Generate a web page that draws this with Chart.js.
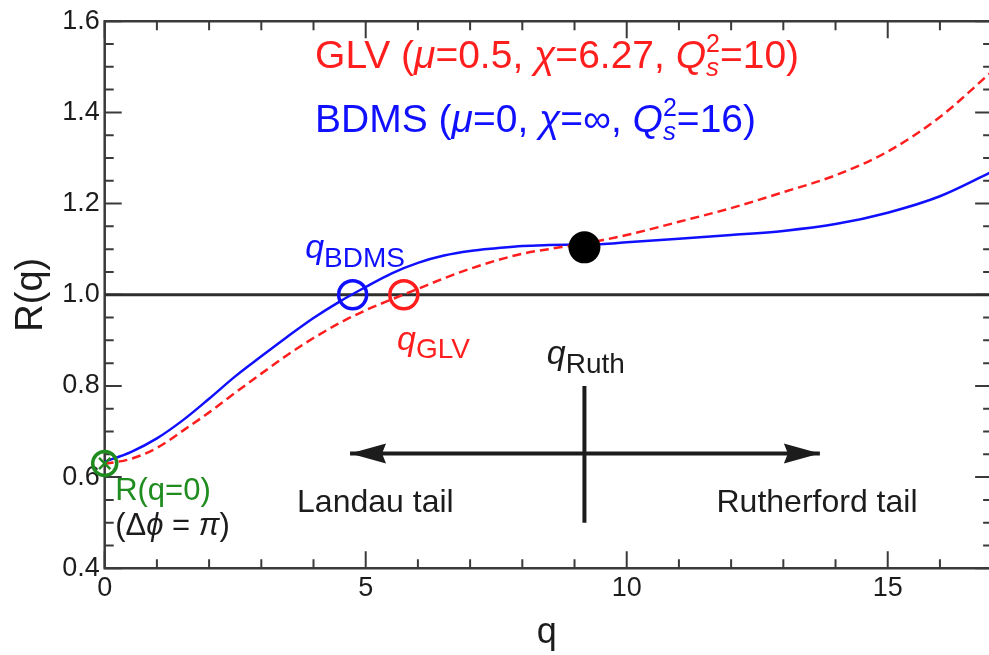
<!DOCTYPE html>
<html>
<head>
<meta charset="utf-8">
<script src="https://cdn.jsdelivr.net/npm/chart.js@4.4.1/dist/chart.umd.min.js"></script>
<style>
  html, body { margin: 0; padding: 0; background: #fff; overflow: hidden; }
  #wrap { width: 989px; height: 655px; }
</style>
</head>
<body>
<div id="wrap"><canvas id="c" width="989" height="655"></canvas></div>
<script>
// momentum grid and the two ratio curves
const qGrid = [0, 0.5, 1, 1.5, 2, 2.5, 3, 3.5, 4, 4.5, 5, 5.5, 6, 6.5, 7, 7.5, 8, 8.5, 9, 9.5, 10, 11, 12, 13, 14, 15, 16, 17];
const bdmsR = [0.634, 0.655, 0.685, 0.725, 0.772, 0.821, 0.865, 0.908, 0.949, 0.985, 1.017, 1.047, 1.07, 1.086, 1.096, 1.102, 1.107, 1.109, 1.110, 1.111, 1.115, 1.123, 1.131, 1.14, 1.155, 1.18, 1.216, 1.27];
const glvR  = [0.629, 0.64, 0.664, 0.702, 0.742, 0.785, 0.827, 0.868, 0.905, 0.938, 0.966, 0.99, 1.013, 1.036, 1.057, 1.075, 1.09, 1.1, 1.109, 1.119, 1.131, 1.16, 1.19, 1.225, 1.262, 1.314, 1.39, 1.49];

const xTicks = [0, 5, 10, 15];
const yTicks = [0.4, 0.6, 0.8, 1.0, 1.2, 1.4, 1.6];
const qMax = 16.94;

// marked points
const qBdms = 4.75, qGlv = 5.73;   // where R(q) = 1
const qRuth = 9.19, rRuth = 1.104;
const rZero = 0.63;                // R(q=0)

// Landau / Rutherford arrow and divider
const arrowQ = [4.7, 13.7], arrowR = 0.652;
const barR = [0.50, 0.80];

const RED = '#ff1e1e', BLUE = '#1010ff', GREEN = '#1e8c1e', INK = '#1c1c1c';
const FAM = '"Liberation Sans", Arial, "DejaVu Sans", sans-serif';
Chart.defaults.font.family = FAM;

const pts = (xs, ys) => xs.map((x, i) => ({ x: x, y: ys[i] }));

const notes = [
  { q: 4.03, r: 1.497, color: RED, parts: [
    { t: 'GLV (', s: 39 }, { t: 'μ', s: 39, i: 1 }, { t: '=0.5, ', s: 39 }, { t: 'χ', s: 39, i: 1 },
    { t: '=6.27, ', s: 39 }, { t: 'Q', s: 39, i: 1 }, { t: '2', s: 25, dy: -16, stay: 1 },
    { t: 's', s: 26, i: 1, dy: 8 }, { t: '=10)', s: 39 }] },
  { q: 4.03, r: 1.357, color: BLUE, parts: [
    { t: 'BDMS (', s: 39 }, { t: 'μ', s: 39, i: 1 }, { t: '=0, ', s: 39 }, { t: 'χ', s: 39, i: 1 },
    { t: '=∞, ', s: 39 }, { t: 'Q', s: 39, i: 1 }, { t: '2', s: 25, dy: -16, stay: 1 },
    { t: 's', s: 26, i: 1, dy: 8 }, { t: '=16)', s: 39 }] },
  { q: 3.84, r: 1.081, color: BLUE, parts: [{ t: 'q', s: 34, i: 1 }, { t: 'BDMS', s: 28, dy: 9 }] },
  { q: 5.60, r: 0.878, color: RED, parts: [{ t: 'q', s: 34, i: 1 }, { t: 'GLV', s: 28, dy: 8 }] },
  { q: 8.47, r: 0.849, color: INK, parts: [{ t: 'q', s: 34, i: 1 }, { t: 'Ruth', s: 28, dy: 9 }] },
  { q: 0.2, r: 0.550, color: GREEN, parts: [{ t: 'R(q=0)', s: 31 }] },
  { q: 0.2, r: 0.474, color: INK, parts: [{ t: '(Δ', s: 31 }, { t: 'ϕ', s: 31, i: 1 }, { t: ' = ', s: 31 }, { t: 'π', s: 31, i: 1 }, { t: ')', s: 31 }] },
  { q: 3.685, r: 0.523, color: INK, parts: [{ t: 'Landau tail', s: 32 }] },
  { q: 11.72, r: 0.523, color: INK, parts: [{ t: 'Rutherford tail', s: 32 }] }
];

function drawParts(ctx, x, y, parts, color) {
  let cx = x;
  ctx.fillStyle = color;
  ctx.textBaseline = 'alphabetic';
  ctx.textAlign = 'left';
  let held = 0;
  for (const p of parts) {
    ctx.font = (p.i ? 'italic ' : '') + p.s + 'px ' + FAM;
    ctx.fillText(p.t, cx, y + (p.dy || 0));
    const w = ctx.measureText(p.t).width;
    if (p.stay) { held = Math.max(held, w); continue; }
    cx += Math.max(w, held);
    held = 0;
  }
}

// inward ticks on all four sides plus the frame
const framePlugin = {
  id: 'frame',
  beforeDatasetsDraw(chart) {
    const { ctx, chartArea: a, scales: { x, y } } = chart;
    const right = x.getPixelForValue(17);
    ctx.save();
    ctx.strokeStyle = '#3a3a3a';
    ctx.lineWidth = 2;
    ctx.beginPath();
    for (let i = 0; i <= 16; i++) {
      const px = x.getPixelForValue(i);
      const len = i % 5 === 0 ? 17 : 9;
      ctx.moveTo(px, a.bottom); ctx.lineTo(px, a.bottom - len);
      ctx.moveTo(px, a.top); ctx.lineTo(px, a.top + len);
    }
    for (let j = 0; j <= 24; j++) {
      const py = y.getPixelForValue(0.4 + j * 0.05);
      const len = j % 4 === 0 ? 17 : 9;
      ctx.moveTo(a.left, py); ctx.lineTo(a.left + len, py);
      ctx.moveTo(right, py); ctx.lineTo(right - len, py);
    }
    ctx.stroke();
    ctx.lineWidth = 2.5;
    ctx.beginPath();
    ctx.moveTo(right, a.top); ctx.lineTo(a.left, a.top);
    ctx.lineTo(a.left, a.bottom); ctx.lineTo(right, a.bottom);
    ctx.stroke();
    ctx.restore();
  }
};

// arrow heads on both ends of the Landau/Rutherford arrow, then the text labels
const arrowPlugin = {
  id: 'arrows',
  afterDatasetsDraw(chart) {
    const meta = chart.getDatasetMeta(3);
    const p0 = meta.data[0], p1 = meta.data[1];
    const ctx = chart.ctx;
    ctx.save();
    ctx.fillStyle = INK;
    [[p0, 1], [p1, -1]].forEach(([p, dir]) => {
      ctx.beginPath();
      ctx.moveTo(p.x, p.y);
      ctx.lineTo(p.x + dir * 36, p.y - 10);
      ctx.lineTo(p.x + dir * 32, p.y);
      ctx.lineTo(p.x + dir * 36, p.y + 10);
      ctx.closePath();
      ctx.fill();
    });
    ctx.restore();
  },
  afterDraw(chart) {
    const { ctx, scales: { x, y } } = chart;
    ctx.save();
    notes.forEach(n => drawParts(ctx, x.getPixelForValue(n.q), y.getPixelForValue(n.r), n.parts, n.color));
    ctx.restore();
  }
};

new Chart(document.getElementById('c'), {
  type: 'line',
  data: {
    datasets: [
      { data: pts([0, 17], [1, 1]), borderColor: '#2e2e2e', borderWidth: 3, pointRadius: 0, order: 5 },
      { data: pts(qGrid, bdmsR), borderColor: BLUE, borderWidth: 2.5, pointRadius: 0, cubicInterpolationMode: 'monotone', order: 4 },
      { data: pts(qGrid, glvR), borderColor: RED, borderWidth: 2.5, borderDash: [9, 5], pointRadius: 0, cubicInterpolationMode: 'monotone', order: 3 },
      { data: pts(arrowQ, [arrowR, arrowR]), borderColor: INK, borderWidth: 4, pointRadius: 0, order: 6 },
      { data: pts([qRuth, qRuth], barR), borderColor: INK, borderWidth: 4, pointRadius: 0, order: 6 },
      { data: pts([qBdms], [1]), showLine: false, pointRadius: 14, pointBorderWidth: 3.5, pointBorderColor: BLUE, pointBackgroundColor: 'rgba(0,0,0,0)', order: 1 },
      { data: pts([qGlv], [1]), showLine: false, pointRadius: 14, pointBorderWidth: 3.5, pointBorderColor: RED, pointBackgroundColor: 'rgba(0,0,0,0)', order: 1 },
      { data: pts([qRuth], [rRuth]), showLine: false, pointRadius: 16, pointBorderWidth: 0, pointBackgroundColor: '#000', order: 0 },
      { data: pts([0], [rZero]), showLine: false, clip: false, pointRadius: 12, pointBorderWidth: 3.5, pointBorderColor: GREEN, pointBackgroundColor: 'rgba(0,0,0,0)', order: 0 },
      { data: pts([0], [rZero]), showLine: false, clip: false, pointStyle: 'crossRot', pointRadius: 8, pointBorderWidth: 2.5, pointBorderColor: GREEN, order: 0 }
    ]
  },
  options: {
    responsive: false,
    animation: false,
    devicePixelRatio: 1,
    events: [],
    layout: { autoPadding: false, padding: { top: 20, right: 0, left: 0, bottom: 0 } },
    plugins: { legend: { display: false }, tooltip: { enabled: false } },
    scales: {
      x: {
        type: 'linear', min: 0, max: qMax,
        afterBuildTicks: s => { s.ticks = xTicks.map(v => ({ value: v })); },
        afterFit: s => { s.height = 86.7; },
        grid: { display: false, drawTicks: false },
        border: { display: false },
        ticks: { color: INK, font: { size: 27 }, padding: 4 },
        title: { display: true, text: 'q', color: INK, font: { size: 36 }, padding: { top: 0, bottom: 0 } }
      },
      y: {
        type: 'linear', min: 0.4, max: 1.6,
        afterBuildTicks: s => { s.ticks = yTicks.map(v => ({ value: v })); },
        afterFit: s => { s.width = 104.7; },
        grid: { display: false, drawTicks: false },
        border: { display: false },
        ticks: { color: INK, font: { size: 27 }, padding: 5, callback: v => v.toFixed(1) },
        title: { display: true, text: 'R(q)', color: INK, font: { size: 38 }, padding: { top: 9, bottom: 0 } }
      }
    }
  },
  plugins: [framePlugin, arrowPlugin]
});
</script>
</body>
</html>
